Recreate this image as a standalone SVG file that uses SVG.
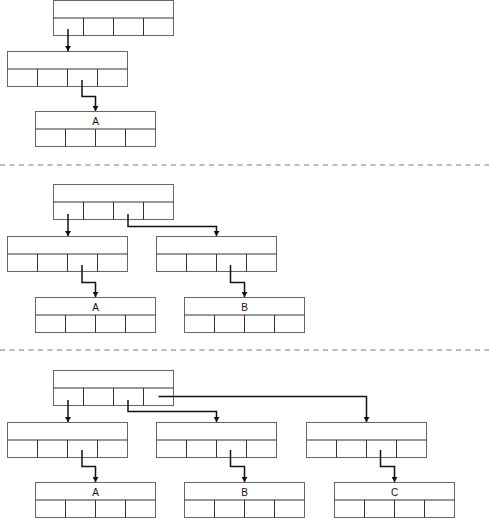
<svg xmlns="http://www.w3.org/2000/svg" width="489" height="519" viewBox="0 0 489 519">
<defs>
<style>
.bx{fill:#fff;stroke:#666;stroke-width:1}
.dv{stroke:#333;stroke-width:1}
.c path{fill:none;stroke:#111;stroke-width:1.5}
.sep{stroke:#bbb;stroke-width:2;stroke-dasharray:5 4.5}
text{font-family:"Liberation Sans",Arial,sans-serif;font-size:10px;fill:#111;text-anchor:middle}
</style>
<marker id="ah" markerWidth="6" markerHeight="6" refX="5" refY="3" orient="auto" markerUnits="userSpaceOnUse">
<path d="M0,0 L5,3 L0,6 Z" fill="#111"/>
</marker>
<g id="box">
<rect class="bx" x="0" y="0" width="120" height="35" fill="#fff" stroke="#666"/>
<line class="dv" x1="0" y1="17.5" x2="120" y2="17.5" stroke="#333"/>
<line class="dv" x1="30" y1="17.5" x2="30" y2="35" stroke="#333"/>
<line class="dv" x1="60" y1="17.5" x2="60" y2="35" stroke="#333"/>
<line class="dv" x1="90" y1="17.5" x2="90" y2="35" stroke="#333"/>
</g>
</defs>
<rect width="489" height="519" fill="#fff"/>
<line class="sep" x1="0" y1="165" x2="489" y2="165"/>
<line class="sep" x1="0" y1="350" x2="489" y2="350"/>

<g id="p1-root"><use href="#box" x="53.5" y="0.5"/></g>
<g id="p1-child"><use href="#box" x="7.5" y="51.5"/></g>
<g id="p1-leafA"><use href="#box" x="35.5" y="111.5"/><text x="95.5" y="124.5">A</text></g>

<g id="p2-root"><use href="#box" x="53.5" y="184.5"/></g>
<g id="p2-child1"><use href="#box" x="7.5" y="236.5"/></g>
<g id="p2-child2"><use href="#box" x="156.5" y="236.5"/></g>
<g id="p2-leafA"><use href="#box" x="35.5" y="297.5"/><text x="95.5" y="310.5">A</text></g>
<g id="p2-leafB"><use href="#box" x="184.5" y="297.5"/><text x="244.5" y="310.5">B</text></g>

<g id="p3-root"><use href="#box" x="53.5" y="370.5"/></g>
<g id="p3-child1"><use href="#box" x="7.5" y="422.5"/></g>
<g id="p3-child2"><use href="#box" x="156.5" y="422.5"/></g>
<g id="p3-child3"><use href="#box" x="306.5" y="422.5"/></g>
<g id="p3-leafA"><use href="#box" x="35.5" y="482.5"/><text x="95.5" y="495.5">A</text></g>
<g id="p3-leafB"><use href="#box" x="184.5" y="482.5"/><text x="244.5" y="495.5">B</text></g>
<g id="p3-leafC"><use href="#box" x="334.5" y="482.5"/><text x="394.5" y="495.5">C</text></g>

<g id="connectors" class="c">
<path d="M68,29 V51" marker-end="url(#ah)"/>
<path d="M82,80 V96.5 H95.5 V111" marker-end="url(#ah)"/>

<path d="M68,214 V236" marker-end="url(#ah)"/>
<path d="M128,214 V226.5 H216.5 V236" marker-end="url(#ah)"/>
<path d="M82,265 V282.5 H95.5 V297" marker-end="url(#ah)"/>
<path d="M230.5,265 V282.5 H244.5 V297" marker-end="url(#ah)"/>

<path d="M68,400 V422" marker-end="url(#ah)"/>
<path d="M128,400 V411.5 H216.5 V422" marker-end="url(#ah)"/>
<path d="M158.5,396.5 H366.5 V422" marker-end="url(#ah)"/>
<path d="M82,450 V466.5 H95.5 V482" marker-end="url(#ah)"/>
<path d="M230.5,450 V466.5 H244.5 V482" marker-end="url(#ah)"/>
<path d="M380.5,450 V466.5 H394.5 V482" marker-end="url(#ah)"/>
</g>
</svg>
